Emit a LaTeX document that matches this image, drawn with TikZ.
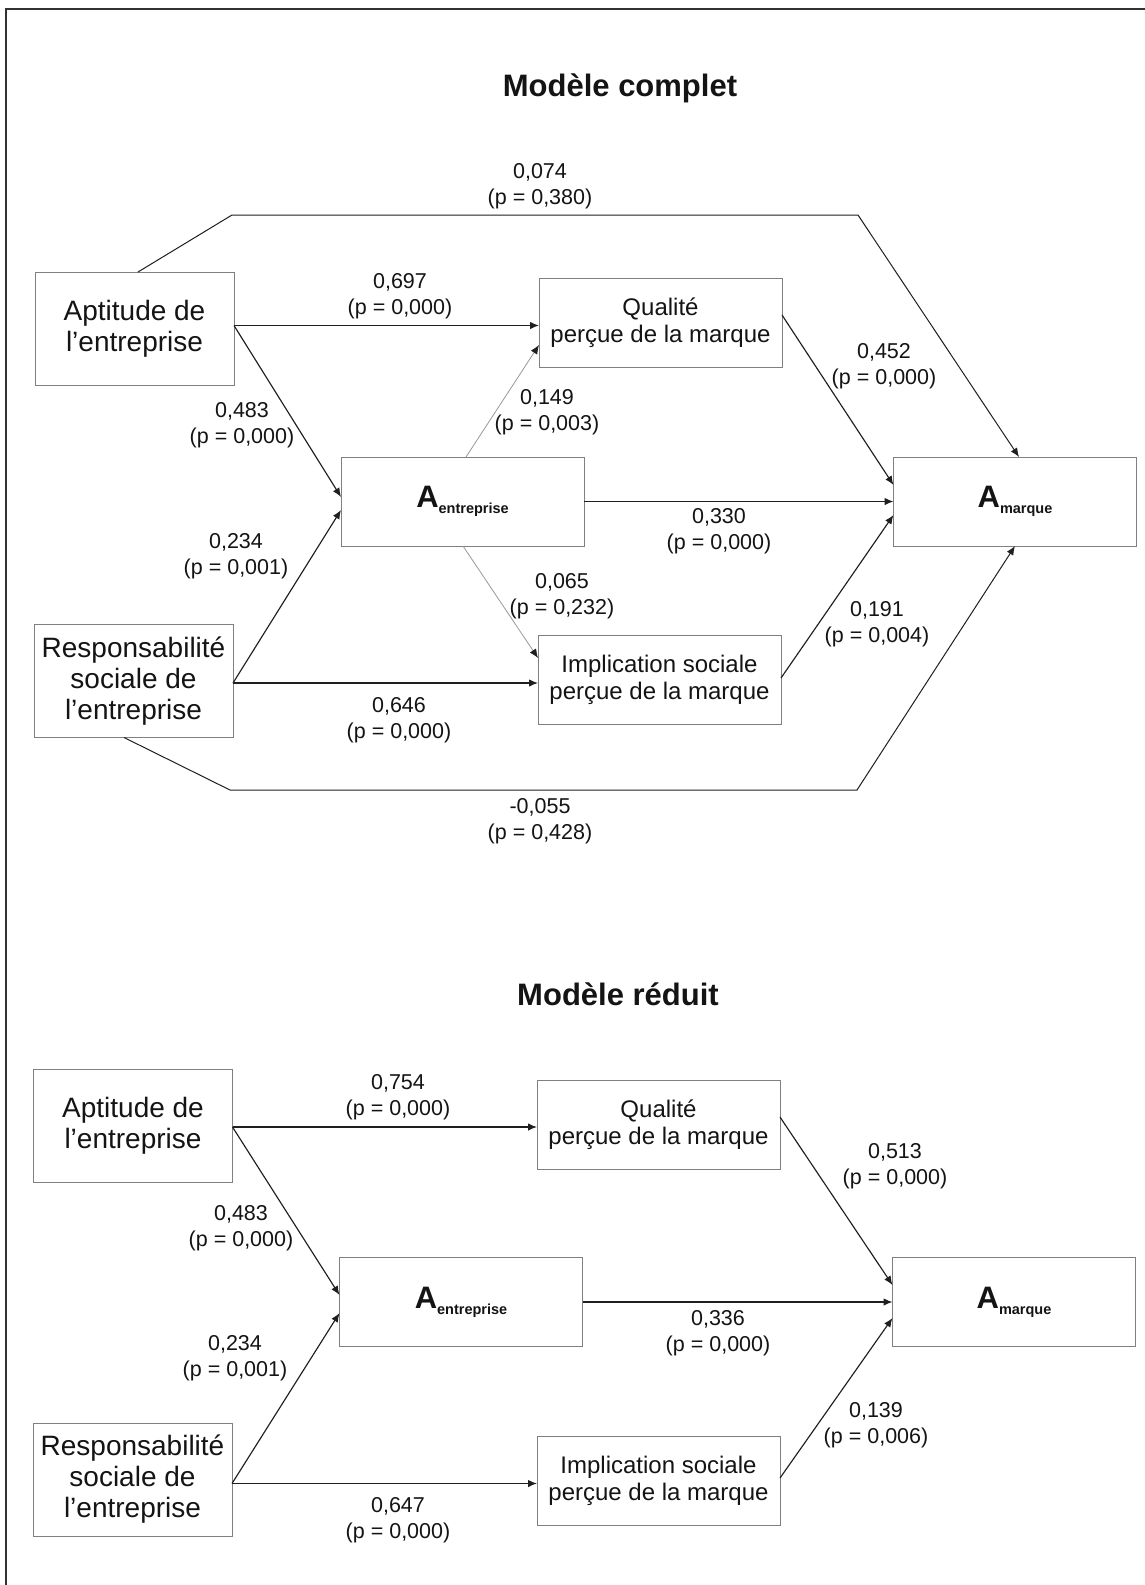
\documentclass[tikz,border=0pt]{standalone}
\usepackage{fontspec}
\setmainfont{Liberation Sans}
\usetikzlibrary{arrows.meta,calc}

\definecolor{boxgray}{gray}{0.5}
\definecolor{linkcol}{gray}{0.12}
\definecolor{weakcol}{gray}{0.6}
\definecolor{framecol}{gray}{0.2}

% Attitude variable: bold A with a small bold subscript
\newcommand\attsub[1]{{\fontsize{31}{32}\selectfont\bfseries A}\raisebox{-6pt}{\fontsize{14.5}{15}\selectfont\bfseries #1}}

\begin{document}
\begin{tikzpicture}[x=1pt,y=-1pt,
  every node/.style={inner sep=0pt, outer sep=0pt, text=black!92},
  bigbox/.style={draw=boxgray, line width=0.9pt, minimum width=199pt, minimum height=113pt,
    align=center, font=\fontsize{28}{31}\selectfont},
  midbox/.style={draw=boxgray, line width=0.9pt, minimum width=243pt, minimum height=89pt,
    align=center, font=\fontsize{24}{27}\selectfont},
  coef/.style={align=center, font=\fontsize{21.5}{26}\selectfont},
  heading/.style={font=\fontsize{31}{34}\selectfont\bfseries},
  link/.style={draw=linkcol, line width=1.15pt, -{Latex[length=9pt,width=7.5pt]}},
  weak/.style={draw=weakcol, line width=0.8pt, -{Latex[length=9pt,width=7.5pt,color=linkcol]}},
  detour/.style={draw=linkcol, line width=1pt, line join=miter, -{Latex[length=9pt,width=7.5pt]}}
]
\useasboundingbox (0,0) rectangle (1145,1585);
\fill[white] (0,0) rectangle (1145,1585);
\draw[framecol, line width=2.5pt] (6,1585) -- (6,9) -- (1145,9);

% ---------- complete model ----------
\node[heading] (t1) at (620,88) {Modèle complet};

\node[bigbox] (apt1)  at (134.5,328.5) {Aptitude de\\l’entreprise};
\node[midbox] (qual1) at (660.5,322.5) {Qualité\\perçue de la marque};
\node[midbox] (aent1) at (462.5,501.5) {\attsub{entreprise}};
\node[midbox] (amar1) at (1015,501.5) {\attsub{marque}};
\node[midbox] (impl1) at (659.5,679.5) {Implication sociale\\perçue de la marque};
\node[bigbox] (resp1) at (133.5,681) {Responsabilité\\sociale de\\l’entreprise};

\draw[link] ($(apt1.east)+(0,-3)$) -- ($(apt1.east -| qual1.west)+(0,-3)$);
\draw[link] ($(apt1.east)+(0,-3)$) -- ($(aent1.west)+(0,-4.5)$);
\draw[link] ($(resp1.east)+(0,2)$) -- ($(aent1.west)+(0,8.5)$);
\draw[link] ($(resp1.east)+(0,2)$) -- ($(resp1.east -| impl1.west)+(0,2)$);
\draw[weak] ($(aent1.north)+(3.5,0)$) -- ($(qual1.west)+(0,22.5)$);
\draw[weak] ($(aent1.south)+(0.5,0)$) -- ($(impl1.west)+(0,-21.5)$);
\draw[link] (aent1.east) -- (aent1.east -| amar1.west);
\draw[link] ($(qual1.east)+(0,-7.5)$) -- ($(amar1.west)+(0,-16.5)$);
\draw[link] ($(impl1.east)+(0,-1.5)$) -- ($(amar1.west)+(0,13.5)$);

\coordinate (up1) at (232,215);
\coordinate (up2) at (858,215);
\draw[detour] ($(apt1.north)+(3.5,0)$) -- (up1) -- (up2) -- ($(amar1.north)+(4,0)$);
\coordinate (dn1) at (230,790);
\coordinate (dn2) at (857,790);
\draw[detour] ($(resp1.south)+(-9.5,0)$) -- (dn1) -- (dn2) -- (amar1.south);

\node[coef] (k1) at (540,186)  {0,074\\(p = 0,380)};
\node[coef] (k2) at (400,296)  {0,697\\(p = 0,000)};
\node[coef] (k3) at (242,425)  {0,483\\(p = 0,000)};
\node[coef] (k4) at (547,412)  {0,149\\(p = 0,003)};
\node[coef] (k5) at (236,556)  {0,234\\(p = 0,001)};
\node[coef] (k6) at (562,596)  {0,065\\(p = 0,232)};
\node[coef] (k7) at (399,720)  {0,646\\(p = 0,000)};
\node[coef] (k8) at (719,531)  {0,330\\(p = 0,000)};
\node[coef] (k9) at (884,366)  {0,452\\(p = 0,000)};
\node[coef] (k10) at (877,624) {0,191\\(p = 0,004)};
\node[coef] (k11) at (540,821) {-0,055\\(p = 0,428)};

% ---------- reduced model ----------
\node[heading] (t2) at (618,994) {Modèle réduit};

\node[bigbox] (apt2)  at (133,1126)     {Aptitude de\\l’entreprise};
\node[midbox] (qual2) at (658.5,1124.5) {Qualité\\perçue de la marque};
\node[midbox] (aent2) at (461,1302)     {\attsub{entreprise}};
\node[midbox] (amar2) at (1014,1302)    {\attsub{marque}};
\node[bigbox] (resp2) at (132.5,1479.5) {Responsabilité\\sociale de\\l’entreprise};
\node[midbox] (impl2) at (658.5,1481)   {Implication sociale\\perçue de la marque};

\draw[link] ($(apt2.east)+(0,1)$) -- ($(apt2.east -| qual2.west)+(0,1)$);
\draw[link] ($(apt2.east)+(0,1)$) -- ($(aent2.west)+(0,-7)$);
\draw[link] ($(resp2.east)+(0,4)$) -- ($(aent2.west)+(0,11)$);
\draw[link] ($(resp2.east)+(0,4)$) -- ($(resp2.east -| impl2.west)+(0,4)$);
\draw[link] (aent2.east) -- (aent2.east -| amar2.west);
\draw[link] ($(qual2.east)+(0,-7.5)$) -- ($(amar2.west)+(0,-17)$);
\draw[link] ($(impl2.east)+(0,-3)$) -- ($(amar2.west)+(0,16)$);

\node[coef] (r1) at (398,1097) {0,754\\(p = 0,000)};
\node[coef] (r2) at (241,1228) {0,483\\(p = 0,000)};
\node[coef] (r3) at (235,1358) {0,234\\(p = 0,001)};
\node[coef] (r4) at (398,1520) {0,647\\(p = 0,000)};
\node[coef] (r5) at (718,1333) {0,336\\(p = 0,000)};
\node[coef] (r6) at (895,1166) {0,513\\(p = 0,000)};
\node[coef] (r7) at (876,1425) {0,139\\(p = 0,006)};
\end{tikzpicture}
\end{document}
